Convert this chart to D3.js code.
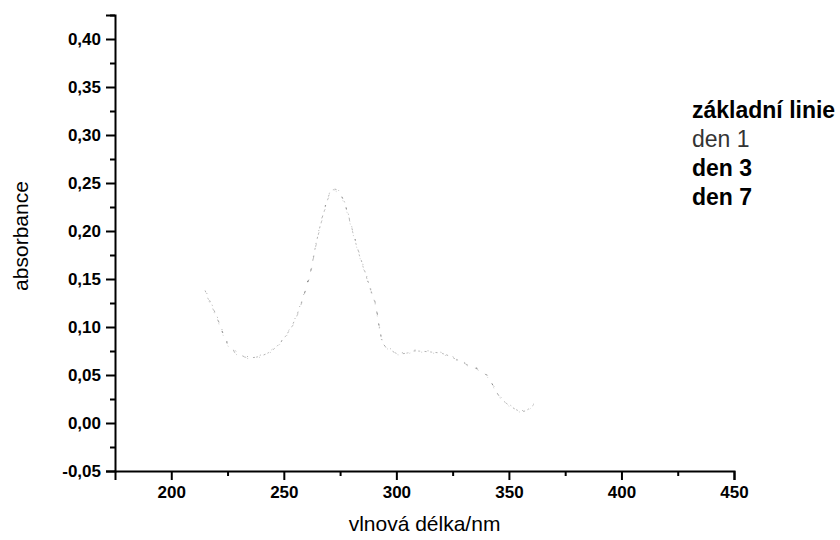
<!DOCTYPE html>
<html>
<head>
<meta charset="utf-8">
<script src="https://cdn.jsdelivr.net/npm/d3@7/dist/d3.min.js"></script>
<style>
  html, body { margin: 0; padding: 0; background: #fff; }
  svg { display: block; font-family: "Liberation Sans", Arial, sans-serif; }
</style>
</head>
<body>
<svg id="chart" width="840" height="540"></svg>
<script>
// UV spectra: absorbance against wavelength (nm)
const wavelengths = [215, 220, 225, 230, 235, 240, 245, 250, 255, 260, 262, 264, 266, 268, 270, 272, 274, 276, 278, 280, 283, 286, 289, 291, 292, 293, 294, 297, 301, 305, 308, 315, 321, 326, 332, 340, 346, 351, 356, 361];

const baselineValues = [0.138, 0.112, 0.083, 0.072, 0.068, 0.070, 0.076, 0.088, 0.108, 0.142, 0.159, 0.183, 0.204, 0.222, 0.237, 0.244, 0.242, 0.235, 0.222, 0.205, 0.180, 0.158, 0.136, 0.121, 0.106, 0.093, 0.083, 0.077, 0.072, 0.073, 0.075, 0.074, 0.072, 0.067, 0.060, 0.050, 0.027, 0.017, 0.012, 0.019];
const day1Values     = [0.135, 0.110, 0.081, 0.070, 0.067, 0.069, 0.075, 0.087, 0.106, 0.140, 0.157, 0.181, 0.202, 0.220, 0.235, 0.242, 0.240, 0.233, 0.220, 0.203, 0.178, 0.156, 0.134, 0.119, 0.104, 0.091, 0.081, 0.076, 0.071, 0.072, 0.074, 0.073, 0.071, 0.066, 0.059, 0.049, 0.026, 0.016, 0.011, 0.018];
const day3Values     = [0.136, 0.111, 0.082, 0.071, 0.068, 0.070, 0.076, 0.088, 0.107, 0.141, 0.158, 0.182, 0.203, 0.221, 0.236, 0.243, 0.241, 0.234, 0.221, 0.204, 0.179, 0.157, 0.135, 0.120, 0.105, 0.092, 0.082, 0.077, 0.072, 0.073, 0.075, 0.074, 0.072, 0.067, 0.060, 0.050, 0.027, 0.017, 0.012, 0.019];
const day7Values     = [0.139, 0.113, 0.084, 0.073, 0.069, 0.071, 0.077, 0.089, 0.109, 0.143, 0.160, 0.184, 0.205, 0.223, 0.238, 0.245, 0.243, 0.236, 0.223, 0.206, 0.181, 0.159, 0.137, 0.122, 0.107, 0.094, 0.084, 0.078, 0.073, 0.074, 0.076, 0.075, 0.073, 0.068, 0.061, 0.051, 0.028, 0.018, 0.013, 0.020];

const seriesNames = ["základní linie", "den 1", "den 3", "den 7"];
const seriesValues = [baselineValues, day1Values, day3Values, day7Values];

const xTicks = [200, 250, 300, 350, 400, 450];
const xMinorTicks = [225, 275, 325, 375, 425];
const yTicks = [-0.05, 0, 0.05, 0.10, 0.15, 0.20, 0.25, 0.30, 0.35, 0.40];
const yMinorTicks = [-0.025, 0.025, 0.075, 0.125, 0.175, 0.225, 0.275, 0.325, 0.375, 0.425];

const xTitle = "vlnová délka/nm";
const yTitle = "absorbance";

const svg = d3.select("#chart");

const x = d3.scaleLinear().domain([175, 450]).range([115, 734]);
const y = d3.scaleLinear().domain([-0.05, 0.425]).range([471, 15]);

const fmt = v => d3.format(".2f")(v).replace(".", ",").replace("−", "-");

// spectra: thin, faded, broken strokes
const line = d3.line()
  .x(d => x(d[0]))
  .y(d => y(d[1]))
  .curve(d3.curveMonotoneX);

const strokeStyles = [
  { color: "#000", dash: "2,9", offset: 0, opacity: 0.30 },
  { color: "#000", dash: "1,11", offset: 3, opacity: 0.20 },
  { color: "#000", dash: "2,10", offset: 6, opacity: 0.25 },
  { color: "#000", dash: "1,12", offset: 9, opacity: 0.30 }
];

svg.append("g")
  .selectAll("path")
  .data(seriesValues)
  .join("path")
  .attr("d", vals => line(wavelengths.map((w, i) => [w, vals[i]])))
  .attr("fill", "none")
  .attr("stroke", (d, i) => strokeStyles[i].color)
  .attr("stroke-opacity", (d, i) => strokeStyles[i].opacity)
  .attr("stroke-width", 1)
  .attr("stroke-dasharray", (d, i) => strokeStyles[i].dash)
  .attr("stroke-dashoffset", (d, i) => strokeStyles[i].offset);

// bottom axis
const xAxis = svg.append("g").attr("transform", `translate(0,${y(-0.05)})`);
xAxis.call(d3.axisBottom(x).tickValues(xTicks).tickSize(9).tickPadding(6).tickFormat(d3.format("d")));
xAxis.append("g")
  .call(d3.axisBottom(x).tickValues(xMinorTicks).tickSize(5).tickFormat(""))
  .select(".domain").remove();

// left axis
const yAxis = svg.append("g").attr("transform", `translate(${x(175)},0)`);
yAxis.call(d3.axisLeft(y).tickValues(yTicks).tickSize(9).tickPadding(5).tickFormat(fmt));
yAxis.append("g")
  .call(d3.axisLeft(y).tickValues(yMinorTicks).tickSize(5).tickFormat(""))
  .select(".domain").remove();

svg.selectAll(".domain").attr("stroke", "#000").attr("stroke-width", 2);
svg.selectAll(".tick line").attr("stroke", "#000").attr("stroke-width", 2);
svg.selectAll(".tick text")
  .attr("fill", "#000")
  .attr("font-size", 17)
  .attr("font-weight", "bold")
  .attr("font-family", "'Liberation Sans', Arial, sans-serif");

// axis titles
svg.append("text")
  .attr("x", (x(175) + x(450)) / 2)
  .attr("y", 531)
  .attr("text-anchor", "middle")
  .attr("font-size", 21)
  .attr("fill", "#000")
  .text(xTitle);

svg.append("text")
  .attr("transform", `translate(28,236) rotate(-90)`)
  .attr("text-anchor", "middle")
  .attr("font-size", 21)
  .attr("fill", "#000")
  .text(yTitle);

// legend
const legend = svg.append("g").attr("transform", "translate(692,118)");
legend.selectAll("text")
  .data(seriesNames)
  .join("text")
  .attr("x", 0)
  .attr("y", (d, i) => i * 29)
  .attr("font-size", 23)
  .attr("font-weight", (d, i) => i === 1 ? "normal" : "bold")
  .attr("fill", (d, i) => i === 1 ? "#333" : "#000")
  .text(d => d);
</script>
</body>
</html>
